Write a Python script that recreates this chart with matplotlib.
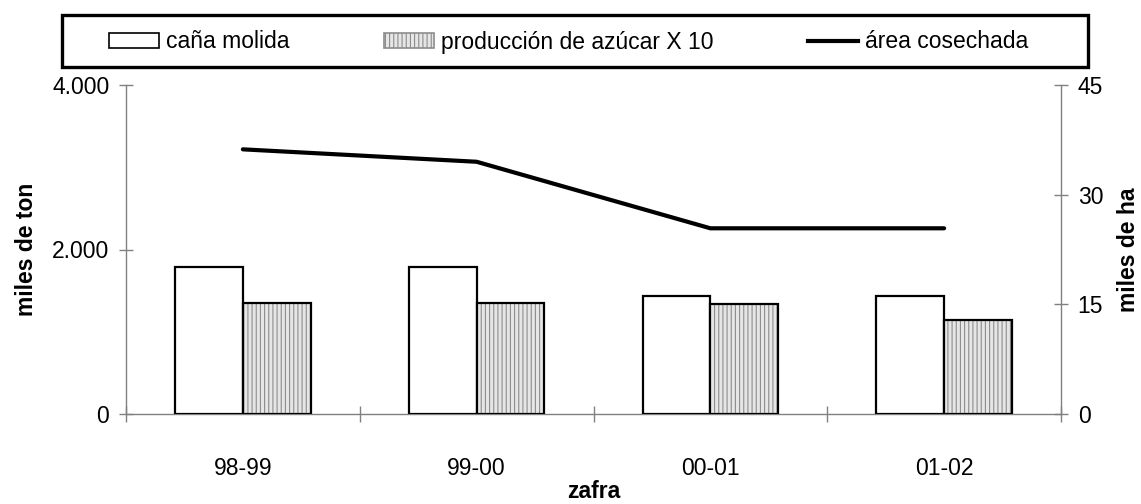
import numpy as np
import matplotlib
matplotlib.use('Agg')
import matplotlib.pyplot as plt
from matplotlib.patches import Patch, Rectangle
from matplotlib.lines import Line2D

plt.rcParams['font.family'] = ['Liberation Sans', 'DejaVu Sans']
plt.rcParams['hatch.linewidth'] = 0.8

# datos
zafras = ['98-99', '99-00', '00-01', '01-02']
cana_molida = [1787, 1787, 1435, 1435]          # miles de ton
azucar_x10 = [1350, 1350, 1337, 1143]           # miles de ton (x10)
area_cosechada = [36.2, 34.5, 25.4, 25.4]       # miles de ha

gris = '#808080'
fs = 16.5

fig = plt.figure(figsize=(11.41, 5.04), dpi=100)
ax = fig.add_axes([126 / 1141, 90 / 504, 935 / 1141, 329 / 504])

x = np.arange(len(zafras))
w = 0.29
ax.bar(x - w / 2, cana_molida, width=w, color='white', edgecolor='black', linewidth=1.6, zorder=3)
# relleno rayado de la produccion de azucar
ax.bar(x + w / 2, azucar_x10, width=w, color='#e6e6e6', edgecolor='#8c8c8c', hatch='||||', linewidth=0, zorder=3)
ax.bar(x + w / 2, azucar_x10, width=w, fill=False, edgecolor='black', linewidth=1.6, zorder=4)

ax.set_xlim(-0.5, len(zafras) - 0.5)
ax.set_ylim(0, 4000)
ax.set_yticks([0, 2000, 4000])
ax.set_yticklabels(['0', '2.000', '4.000'])
ax.set_xticks(x)
ax.set_xticklabels(zafras)
ax.set_xticks(np.arange(-0.5, len(zafras), 1.0), minor=True)
ax.tick_params(axis='x', which='major', length=0, pad=31, labelsize=fs)
ax.tick_params(axis='x', which='minor', direction='inout', length=12, color=gris, width=1)
ax.tick_params(axis='y', direction='inout', length=10, color=gris, width=1, pad=7, labelsize=fs)

for s in ['top', 'right']:
    ax.spines[s].set_visible(False)
for s in ['left', 'bottom']:
    ax.spines[s].set_color(gris)
    ax.spines[s].set_linewidth(1)

ax.set_xlabel('zafra', fontsize=fs, fontweight='bold')
ax.xaxis.set_label_coords(0.5, -0.2)
ax.set_ylabel('miles de ton', fontsize=fs, fontweight='bold', labelpad=10)

ax2 = ax.twinx()
ax2.plot(x, area_cosechada, color='black', linewidth=3, solid_capstyle='round', zorder=5)
ax2.set_ylim(0, 45)
ax2.set_yticks([0, 15, 30, 45])
ax2.tick_params(axis='y', direction='inout', length=10, color=gris, width=1, pad=7, labelsize=fs)
for s in ['top', 'left', 'bottom']:
    ax2.spines[s].set_visible(False)
ax2.spines['right'].set_color(gris)
ax2.spines['right'].set_linewidth(1)
ax2.set_ylabel('miles de ha', fontsize=fs, fontweight='bold', labelpad=10)

# recuadro de la leyenda
fig.patches.append(Rectangle((62 / 1141, (504 - 67) / 504), 1026 / 1141, 52 / 504,
                             transform=fig.transFigure, fill=False,
                             edgecolor='black', linewidth=2.4))

handles = [
    Patch(facecolor='white', edgecolor='black', linewidth=1.2),
    Patch(facecolor='#e6e6e6', edgecolor='#8c8c8c', hatch='||||', linewidth=1.2),
    Line2D([0], [0], color='black', linewidth=3),
]
labels = ['caña molida', 'producción de azúcar X 10', 'área cosechada']
leg = fig.legend(handles, labels, loc='center left', ncol=3,
                 bbox_to_anchor=(109 / 1141, (504 - 42) / 504),
                 fontsize=fs, frameon=False, borderpad=0,
                 handlelength=2.2, handleheight=0.65, handletextpad=0.3,
                 columnspacing=4.1, borderaxespad=0)

fig.savefig('out.png', dpi=100)
